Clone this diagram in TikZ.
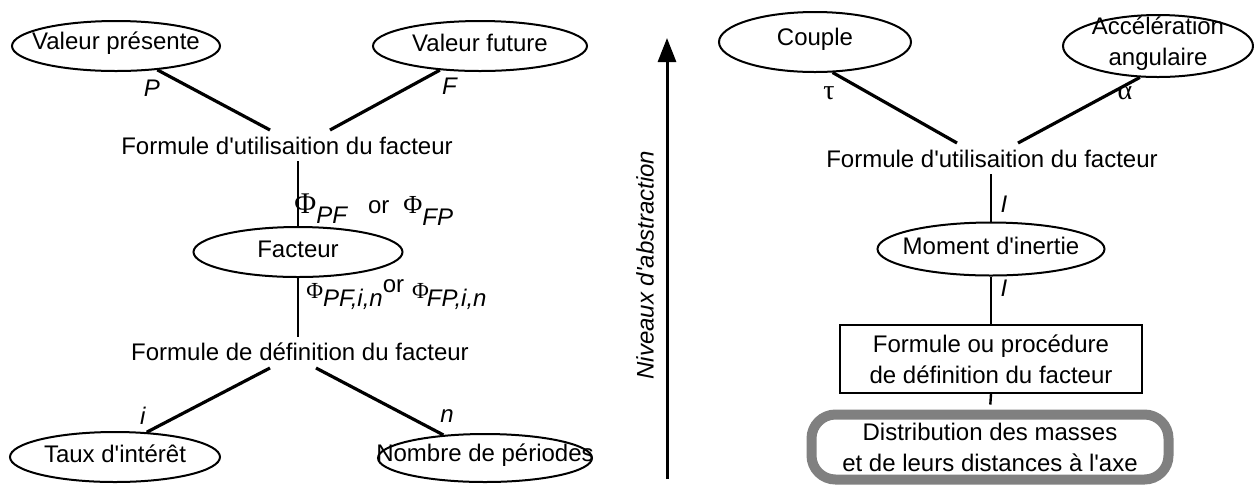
\documentclass[tikz,border=0pt]{standalone}
\usepackage{fontspec}
\setmainfont{Liberation Sans}
\newfontfamily\grk{Liberation Serif}
\newcommand{\apos}{\textquotesingle}
\usetikzlibrary{shapes.geometric, arrows.meta, positioning, calc}

\begin{document}
\begin{tikzpicture}[x=0.5pt, y=-0.5pt, font=\fontsize{12}{15.5}\selectfont,
    oval/.style={draw, ellipse, line width=1pt, inner sep=0pt},
    link/.style={line width=1.6pt},
    stem/.style={line width=1.2pt},
    txt/.style={inner sep=3pt}]
\useasboundingbox (0,0) rectangle (1254,484);

% Left: value and factor
\node[oval, minimum width=104pt, minimum height=25pt, label={[yshift=1.5pt]center:Valeur présente}] (vp) at (116,46) {};
\node[oval, minimum width=107pt, minimum height=25pt, label={[yshift=1.5pt]center:Valeur future}] (vf) at (480,46) {};
\node (lp) at (152,88) {\textit{P}};
\node (lf) at (450,86) {\textit{F}};
\node[txt] (futl) at (287,146) {Formule d\apos utilisaition du facteur};
\coordinate (futlL) at (270,130);
\coordinate (futlR) at (330,130);
\draw[link] (vp.-30) -- (futlL);
\draw[link] (vf.211) -- (futlR);

\node[oval, minimum width=104.5pt, minimum height=25pt, label={[yshift=1.5pt]center:Facteur}] (facteur) at (298,252) {};
\draw[stem] (facteur.north |- futl.south) -- (facteur.north);
\node[anchor=west, inner sep=0pt] (phiA) at (294,210)
    {{\grk\fontsize{15}{15}\selectfont Φ}\raisebox{-5pt}{\textit{PF}}\hspace{10pt}or\hspace{7pt}{\grk\fontsize{13}{13}\selectfont Φ}\raisebox{-6pt}{\textit{FP}}};
\node[anchor=west, inner sep=0pt] (phiB) at (306,295)
    {{\grk\fontsize{11.5}{12}\selectfont Φ}\raisebox{-4pt}{\textit{PF,i,n}}\raisebox{3pt}{or}\hspace{4pt}{\grk\fontsize{11.5}{12}\selectfont Φ}\hspace{-1pt}\raisebox{-4pt}{\textit{FP,i,n}}};

\node[txt] (fdef) at (300,352) {Formule de définition du facteur};
\draw[stem] (facteur.south) -- (facteur.south |- fdef.north);
\node[oval, minimum width=105pt, minimum height=25pt, label={[yshift=1.5pt]center:Taux d\apos intérêt}] (taux) at (115,457) {};
\node[oval, minimum width=107pt, minimum height=24pt, label={[yshift=1.5pt]center:Nombre de périodes}] (nombre) at (485,458) {};
\coordinate (fdefL) at (270,368);
\coordinate (fdefR) at (316,368);
\draw[link] (fdefL) -- (taux.38);
\draw[link] (fdefR) -- (nombre.151);
\node (li) at (143,416) {\textit{i}};
\node (ln) at (447,416) {\textit{n}};

% Abstraction axis
\coordinate (abot) at (667,479);
\coordinate (atop) at (667,38);
\draw[line width=1.5pt, -{Triangle[length=12pt,width=9pt]}] (abot) -- (atop);
\node[rotate=90] (niv) at (645,265) {\textit{Niveaux d\apos abstraction}};

% Right: rotation
\node[oval, minimum width=96pt, minimum height=30pt, label={[yshift=1.5pt]center:Couple}] (couple) at (815,42) {};
\node[oval, minimum width=95pt, minimum height=31pt, label={[align=center, yshift=1pt]center:Accélération\\angulaire}] (acc) at (1158,46) {};
\node (ltau) at (829,93) {\grk\fontsize{14}{14}\selectfont τ};
\node (lalpha) at (1125,93) {\grk\fontsize{14}{14}\selectfont α};
\node[txt] (futr) at (992,159) {Formule d\apos utilisaition du facteur};
\coordinate (futrL) at (957,143);
\coordinate (futrR) at (1018,143);
\draw[link] (couple.-60) -- (futrL);
\draw[link] (acc.240) -- (futrR);

\node[oval, minimum width=113.5pt, minimum height=26.5pt, label={[yshift=1.5pt]center:Moment d\apos inertie}] (moment) at (991,249) {};
\draw[stem] (moment.north |- futr.south) -- (moment.north);
\node (lI1) at (1004,204) {\textit{I}};
\node (lI2) at (1004,288) {\textit{I}};

\node[draw, line width=1pt, minimum width=151pt, minimum height=34pt, align=center] (fproc) at (991,359)
    {Formule ou procédure\\de définition du facteur};
\draw[stem] (moment.south) -- (fproc.north);
\node[draw=black!50, line width=5pt, rounded corners=12pt, minimum width=178.5pt, minimum height=32.5pt, align=center] (distr) at (990,447)
    {Distribution des masses\\et de leurs distances à l\apos axe};
\draw[stem, shorten >=2.5pt] (fproc.south) -- (distr.north);
\end{tikzpicture}
\end{document}
